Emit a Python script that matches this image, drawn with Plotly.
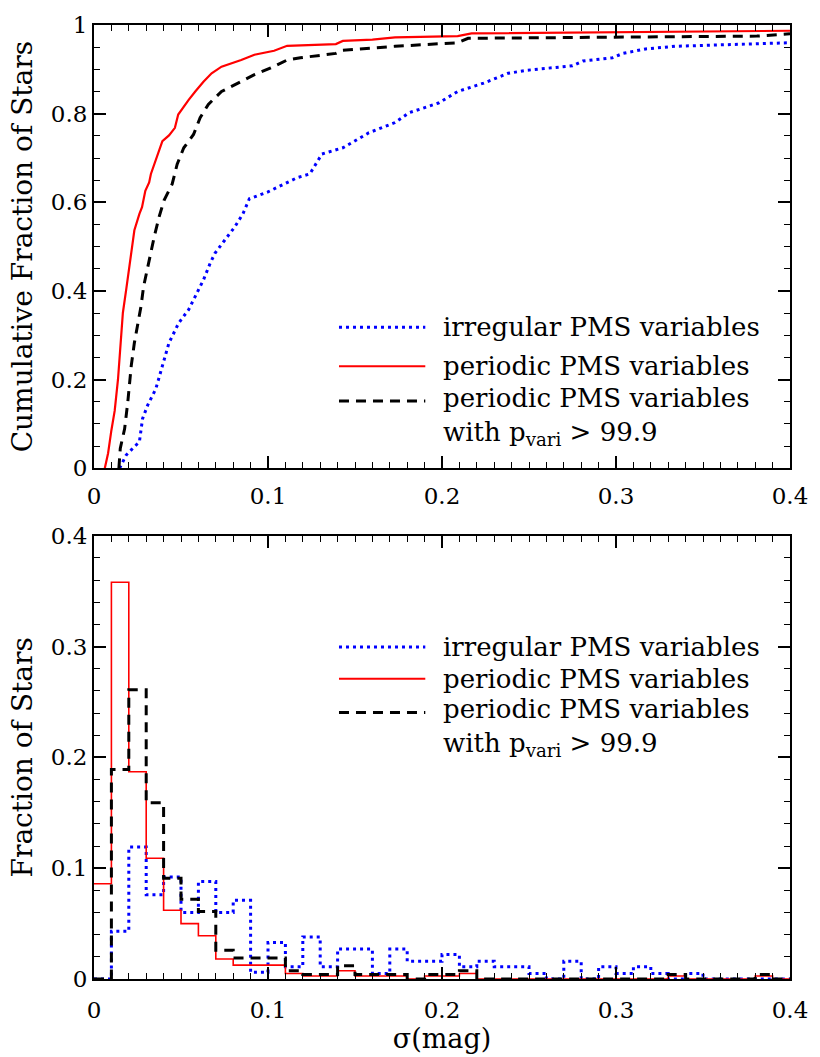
import plotly.graph_objects as go

# ---------------- data ----------------
# cumulative distributions (top panel)
irr_cdf_x = [0.0147, 0.0185, 0.0261, 0.0279, 0.0308, 0.0355, 0.0393, 0.0431, 0.0487, 0.0544,
             0.0582, 0.0629, 0.0667, 0.0695, 0.0752, 0.0808, 0.0856, 0.0893, 0.0997, 0.111,
             0.117, 0.124, 0.131, 0.143, 0.158, 0.173, 0.181, 0.198, 0.209, 0.224,
             0.238, 0.249, 0.275, 0.281, 0.298, 0.304, 0.317, 0.334, 0.362, 0.40]
irr_cdf_y = [0, 0.030, 0.060, 0.112, 0.142, 0.179, 0.231, 0.283, 0.328, 0.358,
             0.388, 0.425, 0.462, 0.485, 0.515, 0.544, 0.574, 0.608, 0.623, 0.645,
             0.656, 0.664, 0.709, 0.723, 0.757, 0.780, 0.802, 0.824, 0.850, 0.869,
             0.891, 0.898, 0.908, 0.919, 0.926, 0.936, 0.946, 0.952, 0.955, 0.960]

per_cdf_x = [0.0062, 0.0081, 0.010, 0.0119, 0.0138, 0.0153, 0.0166, 0.0185, 0.0200, 0.0219,
             0.0232, 0.0261, 0.0276, 0.0295, 0.0317, 0.0327, 0.0346, 0.0364, 0.0393, 0.0431,
             0.0465, 0.0484, 0.0516, 0.0544, 0.0582, 0.0629, 0.0676, 0.0733, 0.0846, 0.0922,
             0.1035, 0.111, 0.139, 0.143, 0.160, 0.173, 0.209, 0.217, 0.40]
per_cdf_y = [0, 0.034, 0.086, 0.130, 0.201, 0.272, 0.351, 0.403, 0.444, 0.492,
             0.537, 0.574, 0.589, 0.626, 0.645, 0.664, 0.686, 0.709, 0.738, 0.751,
             0.768, 0.798, 0.817, 0.831, 0.850, 0.872, 0.891, 0.906, 0.921, 0.933,
             0.942, 0.953, 0.957, 0.964, 0.967, 0.972, 0.975, 0.981, 0.987]

hp_cdf_x = [0.0143, 0.0151, 0.0176, 0.0194, 0.0214, 0.0232, 0.0251, 0.0270, 0.0285, 0.0308,
            0.0327, 0.0346, 0.0374, 0.0402, 0.0449, 0.0478, 0.0516, 0.0572, 0.0610, 0.0657,
            0.0733, 0.0827, 0.0922, 0.1016, 0.111, 0.1186, 0.139, 0.143, 0.173, 0.209,
            0.215, 0.381, 0.40]
hp_cdf_y = [0, 0.045, 0.089, 0.149, 0.231, 0.283, 0.324, 0.365, 0.410, 0.455,
            0.492, 0.522, 0.567, 0.604, 0.641, 0.686, 0.723, 0.753, 0.791, 0.821,
            0.850, 0.869, 0.888, 0.903, 0.921, 0.926, 0.936, 0.943, 0.952, 0.960,
            0.970, 0.975, 0.980]

# histograms (bottom panel), bins of width 0.01 from 0 to 0.40
bin_edges = [0.00, 0.01, 0.02, 0.03, 0.04, 0.05, 0.06, 0.07, 0.08, 0.09,
             0.10, 0.11, 0.12, 0.13, 0.14, 0.15, 0.16, 0.17, 0.18, 0.19,
             0.20, 0.21, 0.22, 0.23, 0.24, 0.25, 0.26, 0.27, 0.28, 0.29,
             0.30, 0.31, 0.32, 0.33, 0.34, 0.35, 0.36, 0.37, 0.38, 0.39, 0.40]
irr_hist = [0, 0.043, 0.119, 0.076, 0.092, 0.060, 0.088, 0.060, 0.071, 0.006,
            0.033, 0.011, 0.038, 0.011, 0.027, 0.027, 0.005, 0.027, 0.016, 0.016,
            0.022, 0.011, 0.016, 0.011, 0.011, 0.005, 0, 0.016, 0, 0.011,
            0.005, 0.011, 0.005, 0, 0.005, 0, 0, 0, 0, 0]
per_hist = [0.086, 0.358, 0.187, 0.109, 0.062, 0.050, 0.039, 0.018, 0.0125, 0.0125,
            0.0125, 0.005, 0.0027, 0.0027, 0.0075, 0.0027, 0.0027, 0.0027, 0, 0.0027,
            0.0027, 0.005, 0, 0, 0, 0, 0, 0, 0, 0,
            0, 0, 0, 0.0027, 0, 0, 0, 0, 0.0027, 0]
hp_hist = [0, 0.189, 0.261, 0.159, 0.091, 0.072, 0.061, 0.026, 0.019, 0.019,
           0.019, 0.0075, 0.004, 0.004, 0.012, 0.004, 0.004, 0.004, 0, 0.004,
           0.004, 0.0075, 0, 0, 0, 0, 0, 0, 0, 0,
           0, 0, 0, 0.004, 0, 0, 0, 0, 0.004, 0]

labels = ["irregular PMS variables", "periodic PMS variables",
          "periodic PMS variables<br>with p<sub>vari</sub> &gt; 99.9"]

FONT = "DejaVu Serif"
BLUE = "#0000ff"
RED = "#ff0000"
BLACK = "#000000"
DOT = "3px,4px"
DASH = "10px,7px"

fig = go.Figure()

# top panel
fig.add_trace(go.Scatter(x=irr_cdf_x, y=irr_cdf_y, mode="lines", xaxis="x", yaxis="y",
                         line=dict(color=BLUE, width=3, dash=DOT), showlegend=False))
fig.add_trace(go.Scatter(x=per_cdf_x, y=per_cdf_y, mode="lines", xaxis="x", yaxis="y",
                         line=dict(color=RED, width=2.2), showlegend=False))
fig.add_trace(go.Scatter(x=hp_cdf_x, y=hp_cdf_y, mode="lines", xaxis="x", yaxis="y",
                         line=dict(color=BLACK, width=3, dash=DASH), showlegend=False))

# bottom panel (step histograms)
def steps(vals):
    return list(vals) + [vals[-1]]

fig.add_trace(go.Scatter(x=bin_edges, y=steps(irr_hist), mode="lines", xaxis="x2", yaxis="y2",
                         line=dict(color=BLUE, width=3, dash=DOT, shape="hv"), showlegend=False))
fig.add_trace(go.Scatter(x=bin_edges, y=steps(per_hist), mode="lines", xaxis="x2", yaxis="y2",
                         line=dict(color=RED, width=1.6, shape="hv"), showlegend=False))
fig.add_trace(go.Scatter(x=bin_edges, y=steps(hp_hist), mode="lines", xaxis="x2", yaxis="y2",
                         line=dict(color=BLACK, width=3, dash=DASH, shape="hv"), showlegend=False))

def axis(**kw):
    d = dict(showline=True, linecolor="black", linewidth=2, mirror="allticks",
             ticks="inside", ticklen=12, tickwidth=1.5, tickcolor="black",
             showgrid=False, zeroline=False,
             tickfont=dict(family=FONT, size=23, color="black"))
    d.update(kw)
    return d

minor_x = dict(ticks="inside", ticklen=6, tickwidth=1.2, tickcolor="black", dtick=0.01, showgrid=False)

fig.update_layout(
    width=820, height=1057,
    margin=dict(l=94, r=20, t=23, b=72),
    paper_bgcolor="white", plot_bgcolor="white",
    showlegend=False,
    xaxis=axis(domain=[0, 1], range=[0, 0.4], dtick=0.1, tick0=0, anchor="y",
               minor=minor_x, ticklabelstandoff=6),
    yaxis=axis(domain=[0.5353, 1], range=[0, 1], dtick=0.2, tick0=0, anchor="x",
               minor=dict(ticks="inside", ticklen=6, tickwidth=1.2, tickcolor="black", dtick=0.05, showgrid=False),
               title=dict(text="Cumulative Fraction of Stars", font=dict(family=FONT, size=28, color="black"), standoff=10)),
    xaxis2=axis(domain=[0, 1], range=[0, 0.4], dtick=0.1, tick0=0, anchor="y2",
                minor=minor_x, ticklabelstandoff=9,
                title=dict(text="σ(mag)", font=dict(family=FONT, size=27, color="black"), standoff=4)),
    yaxis2=axis(domain=[0, 0.4647], range=[0, 0.4], dtick=0.1, tick0=0, anchor="x2",
                minor=dict(ticks="inside", ticklen=6, tickwidth=1.2, tickcolor="black", dtick=0.02, showgrid=False),
                title=dict(text="Fraction of Stars", font=dict(family=FONT, size=28, color="black"), standoff=10)),
)

# manual legends: sample-line y positions (axis-domain fractions) for each panel,
# last entry is the vertical centre of the two-line third label
styles = [dict(color=BLUE, width=3, dash=DOT), dict(color=RED, width=2), dict(color=BLACK, width=3, dash=DASH)]
leg_pos = {
    ("x", "y"): [0.318, 0.230, 0.152, 0.118],
    ("x2", "y2"): [0.749, 0.677, 0.601, 0.567],
}
shapes, annots = [], []
for (xa, ya), ys in leg_pos.items():
    for i in range(3):
        shapes.append(dict(type="line", xref=f"{xa} domain", yref=f"{ya} domain",
                           x0=0.352, x1=0.476, y0=ys[i], y1=ys[i], line=styles[i]))
    text_y = [ys[0], ys[1], ys[3]]
    for i in range(3):
        annots.append(dict(text=labels[i], xref=f"{xa} domain", yref=f"{ya} domain",
                           x=0.499, y=text_y[i], xanchor="left", yanchor="middle", align="left",
                           showarrow=False,
                           font=dict(family=FONT, size=26, color="black")))
fig.update_layout(shapes=shapes, annotations=annots)

fig.write_html("out.html")
